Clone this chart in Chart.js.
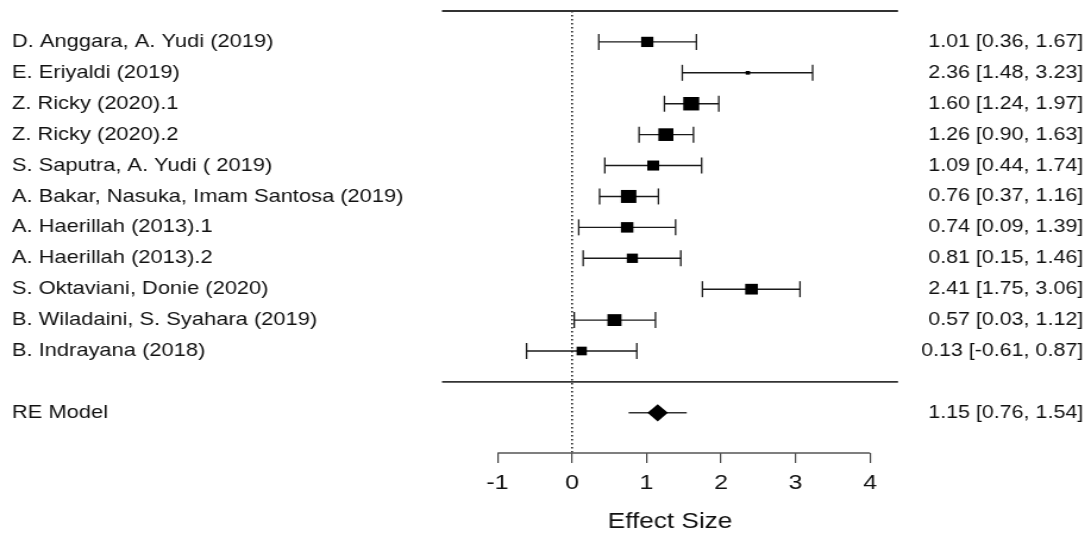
<!DOCTYPE html>
<html>
<head>
<meta charset="utf-8">
<title>Forest plot</title>
<script src="https://cdn.jsdelivr.net/npm/chart.js@4.4.1/dist/chart.umd.min.js"></script>
<style>
  html, body { margin: 0; padding: 0; background: #fff; }
  #forest { display: block; }
</style>
</head>
<body>
<!-- the source picture is stretched sideways, so the canvas is too (inline style keeps Chart.js from resetting it) -->
<canvas id="forest" width="917" height="533" style="width:1091px;height:533px"></canvas>
<script>
const studies = [
    'D. Anggara, A. Yudi (2019)',
    'E. Eriyaldi (2019)',
    'Z. Ricky (2020).1',
    'Z. Ricky (2020).2',
    'S. Saputra, A. Yudi ( 2019)',
    'A. Bakar, Nasuka, Imam Santosa (2019)',
    'A. Haerillah (2013).1',
    'A. Haerillah (2013).2',
    'S. Oktaviani, Donie (2020)',
    'B. Wiladaini, S. Syahara (2019)',
    'B. Indrayana (2018)'
];
const estimates = [1.01, 2.36, 1.60, 1.26, 1.09, 0.76, 0.74, 0.81, 2.41, 0.57, 0.13];
const lower = [0.36, 1.48, 1.24, 0.90, 0.44, 0.37, 0.09, 0.15, 1.75, 0.03, -0.61];
const upper = [1.67, 3.23, 1.97, 1.63, 1.74, 1.16, 1.39, 1.46, 3.06, 1.12, 0.87];
// relative study weights (%)
const weights = [9.0, 3.2, 11.8, 11.1, 8.8, 11.4, 9.2, 8.2, 9.4, 10.4, 7.6];

const summaryLabel = 'RE Model';
const summaryEstimate = 1.15;
const summaryLower = 0.76;
const summaryUpper = 1.54;

const tickValues = [-1, 0, 1, 2, 3, 4];
const axisTitle = 'Effect Size';

// plot frame in axis units
const xMin = -1.745;
const xMax = 4.376;
const rows = studies.map((s, i) => i + 1);
const separatorRow = studies.length + 1;
const summaryRow = studies.length + 2;
const yMax = 14.3;

const fmt = v => v.toFixed(2);
const leftLabels = {};
const rightLabels = {};
rows.forEach((r, i) => {
    leftLabels[r] = studies[i];
    rightLabels[r] = `${fmt(estimates[i])} [${fmt(lower[i])}, ${fmt(upper[i])}]`;
});
leftLabels[summaryRow] = summaryLabel;
rightLabels[summaryRow] = `${fmt(summaryEstimate)} [${fmt(summaryLower)}, ${fmt(summaryUpper)}]`;

const ink = '#1a1a1a';
const fontFamily = "'Liberation Sans', Arial, Helvetica, sans-serif";
Chart.defaults.font.family = fontFamily;

const straight = (points, extra) => Object.assign({
    data: points,
    showLine: true,
    borderColor: ink,
    borderWidth: 1.4,
    pointRadius: 0,
    clip: false
}, extra);

const datasets = [];

// study boxes, drawn on top
datasets.push({
    data: rows.map((r, i) => ({ x: estimates[i], y: r })),
    pointStyle: 'rect',
    pointRadius: weights.map(w => w * 1.14 / Math.SQRT2),
    pointBackgroundColor: '#000',
    pointBorderWidth: 0,
    showLine: false,
    clip: false
});

// summary diamond
datasets.push({
    data: [{ x: summaryEstimate, y: summaryRow }],
    pointStyle: 'rectRot',
    pointRadius: 8.6,
    pointBackgroundColor: '#000',
    pointBorderWidth: 0,
    showLine: false,
    clip: false
});

// confidence intervals with end caps
rows.forEach((r, i) => {
    datasets.push(straight([{ x: lower[i], y: r }, { x: upper[i], y: r }], {
        pointStyle: 'line',
        pointRotation: 90,
        pointRadius: 8,
        pointBorderColor: ink,
        pointBorderWidth: 1.3
    }));
});
datasets.push(straight([{ x: summaryLower, y: summaryRow }, { x: summaryUpper, y: summaryRow }], {
    borderColor: '#333'
}));

// frame lines
datasets.push(straight([{ x: xMin, y: 0 }, { x: xMax, y: 0 }], { borderColor: '#333', borderWidth: 1.8 }));
datasets.push(straight([{ x: xMin, y: separatorRow }, { x: xMax, y: separatorRow }], { borderColor: '#333', borderWidth: 1.8 }));
datasets.push(straight([{ x: tickValues[0], y: yMax }, { x: tickValues[tickValues.length - 1], y: yMax }], { borderColor: '#555', borderWidth: 1.4 }));
datasets.push(straight([{ x: 0, y: 0 }, { x: 0, y: yMax }], {
    borderColor: '#222',
    borderWidth: 1.6,
    borderDash: [1.6, 2.4]
}));

const rowAxis = (position, labels, width) => ({
    type: 'linear',
    position: position,
    min: 0,
    max: yMax,
    reverse: true,
    grid: { display: false },
    border: { display: false },
    afterBuildTicks: axis => { axis.ticks = Object.keys(labels).map(v => ({ value: Number(v) })); },
    afterFit: axis => {
        axis.width = width;
        axis.paddingTop = 0;
        axis.paddingBottom = 0;
    },
    ticks: {
        autoSkip: false,
        padding: 0,
        crossAlign: 'far',
        color: '#111',
        font: { size: position === 'left' ? 18.4 : 18 },
        callback: value => labels[value]
    }
});

new Chart(document.getElementById('forest'), {
    type: 'scatter',
    data: { datasets: datasets },
    options: {
        responsive: false,
        animation: false,
        devicePixelRatio: 1,
        layout: { padding: { top: 11, left: 10, right: 6.6, bottom: 0 } },
        plugins: {
            legend: { display: false },
            tooltip: { enabled: false }
        },
        scales: {
            x: {
                type: 'linear',
                min: xMin,
                max: xMax,
                afterBuildTicks: axis => { axis.ticks = tickValues.map(v => ({ value: v })); },
                afterFit: axis => {
                    axis.height = 80;
                    axis.paddingLeft = 0;
                    axis.paddingRight = 0;
                },
                grid: {
                    drawOnChartArea: false,
                    drawTicks: true,
                    tickLength: 10,
                    color: '#444',
                    lineWidth: 1.2
                },
                border: { display: false },
                ticks: {
                    autoSkip: false,
                    maxRotation: 0,
                    padding: 8,
                    color: '#111',
                    font: { size: 21 }
                },
                title: {
                    display: true,
                    text: axisTitle,
                    color: '#111',
                    padding: { top: 0, bottom: 0 },
                    font: { size: 22, lineHeight: 1 }
                }
            },
            y: rowAxis('left', leftLabels, 361.5),
            y2: rowAxis('right', rightLabels, 155.6)
        }
    }
});
</script>
</body>
</html>
